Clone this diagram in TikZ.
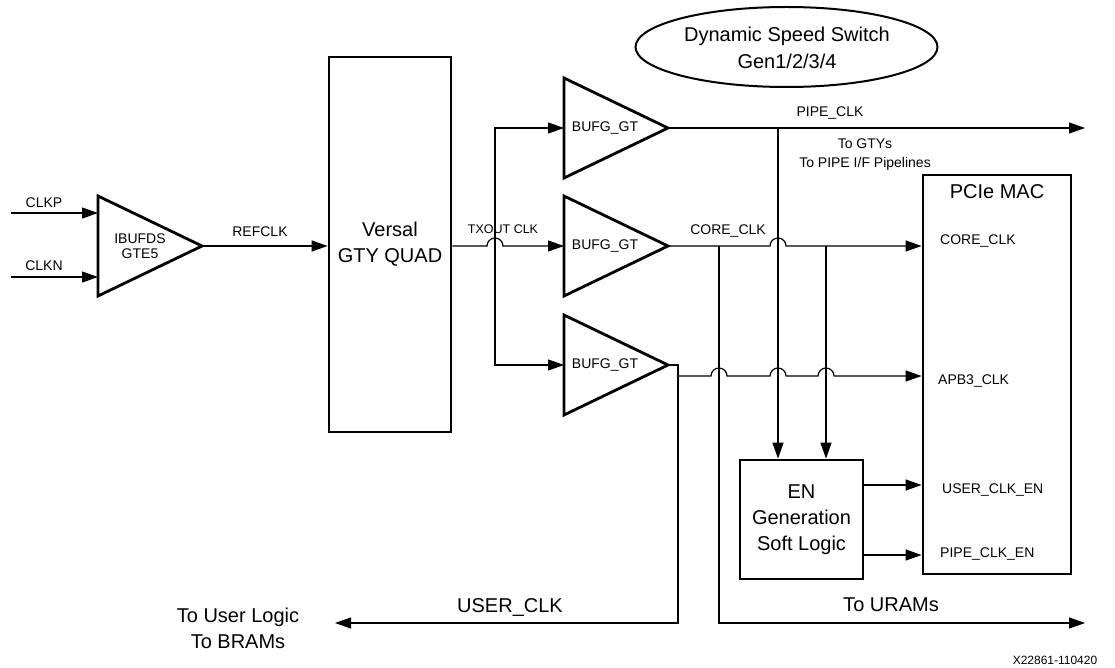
\documentclass[tikz,border=0pt]{standalone}
\usepackage{fontspec}
\setmainfont{Liberation Sans}
\usetikzlibrary{arrows.meta,calc,shapes.geometric}

\newcommand{\hop}[1]{-- ($(#1)-(8,0)$) arc[start angle=180,end angle=0,radius=8pt]}

\tikzset{
  wire/.style={line width=1.2pt},
  arr/.style={wire,-{Triangle[length=16pt,width=11pt]}},
  blk/.style={draw,rectangle,line width=2.8pt,inner sep=0},
  tri/.style={line width=2.8pt,line join=miter},
  lbl/.style={font=\fontsize{14}{19}\selectfont,inner sep=0,align=center},
  big/.style={font=\fontsize{20}{26}\selectfont,inner sep=0,align=center}
}

\begin{document}
\begin{tikzpicture}[x=1pt,y=-1pt]
        \useasboundingbox (0,0) rectangle (1115,668);

        % buffers
        \draw[tri] (98,196) -- (202,246) coordinate (ibo) -- (98,296) -- cycle;
        \draw[tri] (564,78) -- (668,128) coordinate (b1o) -- (564,178) -- cycle;
        \draw[tri] (564,196) -- (668,246) coordinate (b2o) -- (564,296) -- cycle;
        \draw[tri] (564,315) -- (668,365) coordinate (b3o) -- (564,415) -- cycle;

        \node[lbl,font=\fontsize{14}{15}\selectfont] (ibtxt) at (140,246) {IBUFDS\\GTE5};
        \node[lbl] (b1txt) at (605,128) {BUFG\_GT};
        \node[lbl] (b2txt) at (605,246) {BUFG\_GT};
        \node[lbl] (b3txt) at (605,365) {BUFG\_GT};

        % blocks
        \node[blk,big,minimum width=122pt,minimum height=375pt] (versal) at (390,244.5) {Versal\\GTY QUAD};
        \node[blk,minimum width=148pt,minimum height=399pt] (mac) at (997,374.5) {};
        \node[big] (macttl) at (997,192) {PCIe MAC};
        \node[blk,big,minimum width=123pt,minimum height=119pt] (en) at (801.5,519.5) {EN\\Generation\\Soft Logic};
        \node[draw,ellipse,line width=2pt,minimum width=302pt,minimum height=80pt,inner sep=0] (dss) at (786.5,47) {};
        \node[big,font=\fontsize{20}{27}\selectfont] (dsstxt) at (787,48) {Dynamic Speed Switch\\Gen1/2/3/4};

        % labels
        \node[lbl] (clkp) at (44,203) {CLKP};
        \node[lbl] (clkn) at (44,266) {CLKN};
        \node[lbl] (refclk) at (260,232) {REFCLK};
        \node[lbl,font=\fontsize{12.5}{14}\selectfont] (txout) at (503,229) {TXOUT CLK};
        \node[lbl] (pipeclk) at (830,113) {PIPE\_CLK};
        \node[lbl] (gtys) at (865,155) {To GTYs\\To PIPE I/F Pipelines};
        \node[lbl] (coreclk) at (728,231) {CORE\_CLK};
        \node[lbl,anchor=west] (maccore) at (940,241) {CORE\_CLK};
        \node[lbl,anchor=west] (macapb) at (938,381) {APB3\_CLK};
        \node[lbl,anchor=west] (macuser) at (942,490) {USER\_CLK\_EN};
        \node[lbl,anchor=west] (macpipe) at (940,554) {PIPE\_CLK\_EN};
        \node[big] (userclk) at (510,607) {USER\_CLK};
        \node[big] (tobram) at (238,628) {To User Logic\\To BRAMs};
        \node[big] (touram) at (891,605) {To URAMs};
        \node[font=\fontsize{12}{14}\selectfont,inner sep=0] (figid) at (1055,660) {X22861-110420};

        % wire ends
        \coordinate (clkpin) at (11,213);
        \coordinate (clknin) at (11,277);
        \coordinate (ibp) at (98,213);
        \coordinate (ibn) at (98,277);
        \coordinate (txv) at (495,246);
        \coordinate (b1i) at (564,128);
        \coordinate (b2i) at (564,246);
        \coordinate (b3i) at (564,365);
        \coordinate (pipeout) at (1085,128);
        \coordinate (vp) at (778,128);
        \coordinate (vu) at (719,246);
        \coordinate (vc) at (826,246);
        \coordinate (vb) at (678,365);
        \coordinate (apb) at (678,376);
        \coordinate (userout) at (335,623);
        \coordinate (uramout) at (1085,623);
        \coordinate (enu) at (863,485);
        \coordinate (enp) at (863,555);

        \draw[arr] (clkpin) -- (ibp);
        \draw[arr] (clknin) -- (ibn);
        \draw[arr] (ibo) -- (ibo -| versal.west);
        \draw[arr] (b2o -| versal.east) \hop{txv} -- (b2i);
        \draw[arr] (txv) |- (b1i);
        \draw[arr] (txv) |- (b3i);

        \draw[arr] (b1o) -- (pipeout);
        \draw[arr] (b2o) \hop{b2o -| vp} -- (b2o -| mac.west);
        \draw[arr] (vp) -- (vp |- en.north);
        \draw[arr] (vc) -- (vc |- en.north);
        \draw[arr] (vu) |- (uramout);
        \draw[arr] (b3o) -- (vb) |- (userout);
        \draw[arr] (apb) \hop{apb -| vu} \hop{apb -| vp} \hop{apb -| vc} -- (apb -| mac.west);

        \draw[arr] (enu) -- (enu -| mac.west);
        \draw[arr] (enp) -- (enp -| mac.west);
      \end{tikzpicture}
\end{document}
